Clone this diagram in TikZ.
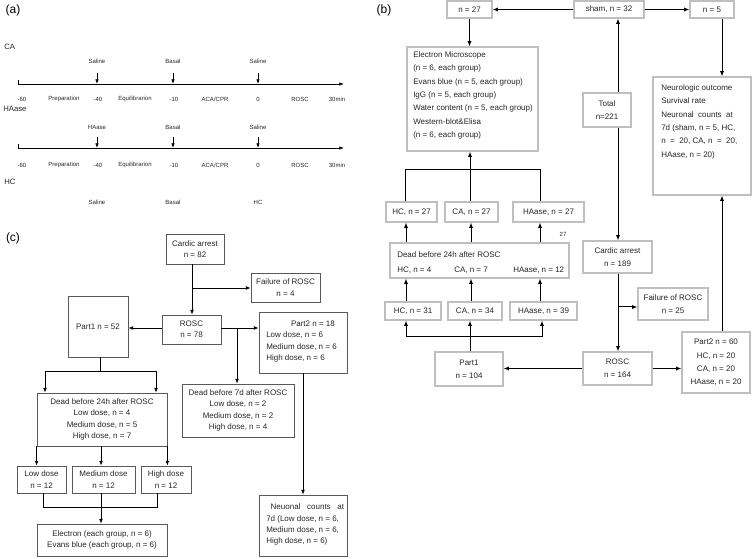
\documentclass[tikz,border=0pt]{standalone}
\usepackage{fontspec}
\setmainfont{Liberation Sans}
\usetikzlibrary{arrows.meta}
\tikzset{
  sz/.style 2 args={minimum width=#1*0.75pt,minimum height=#2*0.75pt},
  bb/.style={draw=black!25,line width=0.9pt,inner sep=0pt,font=\fontsize{6}{10}\selectfont,text=black!85},
  cb/.style={draw=black!65,line width=0.6pt,inner sep=0pt,font=\fontsize{6}{8.6}\selectfont,text=black!85},
  btxt/.style={inner sep=0pt,font=\fontsize{6}{10}\selectfont,text=black!85},
  ctxt/.style={inner sep=0pt,font=\fontsize{6}{8.6}\selectfont,text=black!85},
  bl/.style={line width=0.75pt},
  ba/.style={line width=0.75pt,-{Latex[length=4pt,width=3.2pt]}},
  cl/.style={line width=0.6pt},
  ca/.style={line width=0.6pt,-{Latex[length=3.5pt,width=2.8pt]}},
  al/.style={line width=0.5pt},
  aa/.style={line width=0.5pt,-{Latex[length=3.5pt,width=2.6pt]}},
  small/.style={inner sep=0pt,font=\fontsize{4.5}{5}\selectfont,text=black!85},
  grp/.style={inner sep=0pt,font=\fontsize{5.8}{6}\selectfont,text=black!85},
  panel/.style={inner sep=0pt,font=\fontsize{9}{10}\selectfont},
}
\begin{document}
\begin{tikzpicture}[x=0.75pt,y=-0.75pt]
\useasboundingbox (0,0) rectangle (754,559);
% ---------------- panel labels
\node[panel] (la) at (13,10) {(a)};
\node[panel] (lb) at (384,10) {(b)};
\node[panel] (lc) at (13,238) {(c)};
% ---------------- panel (a)
\node[grp,anchor=west] (gCA) at (4,47) {CA};
\node[grp,anchor=west] (gHA) at (3,109) {HAase};
\node[grp,anchor=west] (gHC) at (4,182) {HC};
% timeline 1
\coordinate (t1s) at (18,84); \coordinate (t1e) at (344,84);
\coordinate (t1k) at (18,80.5);
\draw[aa] (t1s) -- (t1e);
\draw[al] (t1k) -- (t1s);
\foreach \i/\x/\t in {1/97/Saline,2/173/Basal,3/258/Saline}{
  \node[small] (u1\i) at (\x,61) {\t};
  \coordinate (p1\i) at (\x,73); \coordinate (q1\i) at (\x,84);
  \draw[aa] (p1\i) -- (q1\i);
}
\foreach \i/\x/\t in {1/22/-60,2/64/Preparation,3/98/-40,4/135/Equilibrarion,5/174/-10,6/215/{ACA/CPR},7/258/0,8/300/ROSC,9/337/30min}{
  \node[small] (d1\i) at (\x,99) {\t};
}
% timeline 2
\coordinate (t2s) at (18,148); \coordinate (t2e) at (344,148);
\coordinate (t2k) at (18,144.5);
\draw[aa] (t2s) -- (t2e);
\draw[al] (t2k) -- (t2s);
\foreach \i/\x/\t in {1/97/HAase,2/173/Basal,3/258/Saline}{
  \node[small] (u2\i) at (\x,127) {\t};
  \coordinate (p2\i) at (\x,137); \coordinate (q2\i) at (\x,148);
  \draw[aa] (p2\i) -- (q2\i);
}
\foreach \i/\x/\t in {1/22/-60,2/64/Preparation,3/98/-40,4/135/Equilibrarion,5/174/-10,6/215/{ACA/CPR},7/258/0,8/300/ROSC,9/337/30min}{
  \node[small] (d2\i) at (\x,165) {\t};
}
% HC row
\node[small] (h1) at (97,202) {Saline};
\node[small] (h2) at (173,202) {Basal};
\node[small] (h3) at (258,202) {HC};
% ---------------- panel (b)
\node[bb,sz={45}{17}] (n27) at (469.5,9.5) {n = 27};
\node[bb,sz={70}{17}] (sham) at (609,9.5) {sham, n = 32};
\node[bb,sz={44}{17}] (n5) at (712,9.5) {n = 5};
\node[bb,sz={131}{104}] (elec) at (472.5,99) {};
\node[btxt,anchor=north west,align=left] (elecT) at (413,51.5) {Electron Microscope\\(n = 6, each group)\\Evans blue (n = 5, each group)\\IgG (n = 5, each group)\\Water content (n = 5, each group)\\Western-blot\&Elisa\\(n = 6, each group)};
\node[bb,sz={98}{118}] (neuro) at (702,136) {};
\node[btxt,anchor=north west,align=left] (neuroT) at (661,84.5) {Neurologic outcome\\Survival rate\\Neuronal\ \ counts\ \ at\\7d (sham, n = 5, HC,\\n\ \ =\ \ 20, CA, n\ \ =\ \ 20,\\HAase, n = 20)};
\node[bb,sz={48}{34},align=center] (total) at (607,110) {Total\\n=221};
\node[bb,sz={51}{20}] (hc27) at (411.5,212) {HC, n = 27};
\node[bb,sz={53}{20}] (ca27) at (471.5,212) {CA, n = 27};
\node[bb,sz={71}{20}] (ha27) at (548.5,212) {HAase, n = 27};
\node[inner sep=0pt,font=\fontsize{4.5}{5}\selectfont,text=black!85] (s27) at (563,234) {27};
\node[bb,sz={179}{35}] (dead) at (479.5,260.5) {};
\node[btxt,anchor=west] (deadT) at (397,255) {Dead before 24h after ROSC};
\node[btxt,anchor=west] (deadA) at (397,270) {HC, n = 4};
\node[btxt,anchor=west] (deadB) at (454,270) {CA, n = 7};
\node[btxt,anchor=west] (deadC) at (513,270) {HAase, n = 12};
\node[bb,sz={69}{32},align=center] (card) at (617.5,257) {Cardic arrest\\n = 189};
\node[bb,sz={70}{32},align=center] (fail) at (673,304) {Failure of ROSC\\n = 25};
\node[bb,sz={56}{18}] (hc31) at (413,311) {HC, n = 31};
\node[bb,sz={54}{18}] (ca34) at (475,311) {CA, n = 34};
\node[bb,sz={67}{18}] (ha39) at (543.5,311) {HAase, n = 39};
\node[bb,sz={68}{34},align=center] (part1) at (469,369) {Part1\\n = 104};
\node[bb,sz={69}{33},align=center] (rosc) at (617.5,368.5) {ROSC\\n = 164};
\node[bb,sz={68}{61},align=center] (part2) at (716,362.5) {Part2 n = 60\\HC, n = 20\\CA, n = 20\\HAase, n = 20};
% connectors (b)
\draw[ba] (sham.west) -- (n27.east);
\draw[ba] (sham.east) -- (n5.west);
\draw[ba] (n27.south) -- (n27.south |- elec.north);
\draw[ba] (n5.south -| 722,0) -- (neuro.north -| 722,0);
\draw[ba] (total.north -| 618,0) -- (sham.south -| 618,0);
\draw[ba] (total.south -| 618,0) -- (card.north -| 618,0);
\draw[ba] (card.south -| 618,0) -- (rosc.north -| 618,0);
\coordinate (fb) at (618,307);
\draw[ba] (fb) -- (fail.west |- fb);
\draw[ba] (rosc.west) -- (part1.east |- rosc.west);
\draw[ba] (rosc.east) -- (part2.west |- rosc.east);
\draw[ba] (part2.north -| 722,0) -- (neuro.south -| 722,0);
% top bracket
\coordinate (tbL) at (405,170); \coordinate (tbR) at (540,170); \coordinate (tbM) at (470,170);
\draw[bl] (hc27.north -| tbL) -- (tbL) -- (tbR) -- (ha27.north -| tbR);
\draw[bl] (ca27.north -| tbM) -- (tbM);
\draw[ba] (tbM) -- (elec.south -| tbM);
% dead -> 27 boxes
\draw[ba] (dead.north -| 406,0) -- (hc27.south -| 406,0);
\draw[ba] (dead.north -| 471,0) -- (ca27.south -| 471,0);
\draw[ba] (dead.north -| 540,0) -- (ha27.south -| 540,0);
% 31 boxes -> dead
\draw[ba] (hc31.north -| 406,0) -- (dead.south -| 406,0);
\draw[ba] (ca34.north -| 471,0) -- (dead.south -| 471,0);
\draw[ba] (ha39.north -| 540,0) -- (dead.south -| 540,0);
% bottom bracket
\coordinate (bbL) at (406,337); \coordinate (bbR) at (542,337); \coordinate (bbM) at (470,337);
\draw[bl] (part1.north -| bbM) -- (bbM);
\draw[ba] (bbM) -- (ca34.south -| bbM);
\draw[ba] (bbL) -- (hc31.south -| bbL);
\draw[ba] (bbR) -- (ha39.south -| bbR);
\draw[bl] (bbL) -- (bbR);
% ---------------- panel (c)
\node[cb,sz={58}{30},align=center] (ccard) at (195,249) {Cardic arrest\\n = 82};
\node[cb,sz={69}{29},align=center] (cfail) at (285.5,287.5) {Failure of ROSC\\n = 4};
\node[cb,sz={59}{29},align=center] (crosc) at (191.5,329.5) {ROSC\\n = 78};
\node[cb,sz={60}{61}] (cpart1) at (98,326.5) {Part1 n = 52};
\node[cb,sz={88}{61}] (cpart2) at (303,342.5) {};
\node[ctxt,anchor=north west,align=left] (cpart2T) at (266,320.5) {\makebox[70pt]{Part2 n = 18}\\Low dose, n = 6\\Medium dose, n = 6\\High dose, n = 6};
\node[cb,sz={112}{53},align=center] (cdead7) at (238,410.5) {Dead before 7d after ROSC\\Low dose, n = 2\\Medium dose, n = 2\\High dose, n = 4};
\node[cb,sz={130}{53},align=center] (cdead24) at (102,419.5) {Dead before 24h after ROSC\\Low dose, n = 4\\Medium dose, n = 5\\High dose, n = 7};
\node[cb,sz={49}{27},align=center] (clow) at (41.5,479.5) {Low dose\\n = 12};
\node[cb,sz={63}{27},align=center] (cmed) at (103.5,479.5) {Medium dose\\n = 12};
\node[cb,sz={50}{27},align=center] (chigh) at (166,479.5) {High dose\\n = 12};
\node[cb,sz={130}{32},align=center] (celec) at (102,540) {Electron (each group, n = 6)\\Evans blue (each group, n = 6)};
\node[cb,sz={88}{61}] (cneur) at (303,525.5) {};
\node[ctxt,anchor=north west,align=left] (cneurT) at (266,503.5) {\ \ Neuonal\ \ \ counts\ \ \ at\\7d (Low dose, n = 6,\\Medium dose, n = 6,\\High dose, n = 6)};
% connectors (c)
\draw[ca] (ccard.south -| 192,0) -- (crosc.north -| 192,0);
\coordinate (cfb) at (192,288);
\draw[ca] (cfb) -- (cfail.west |- cfb);
\draw[ca] (crosc.west |- 0,328) -- (cpart1.east |- 0,328);
\draw[ca] (crosc.east |- 0,328) -- (cpart2.west |- 0,328);
\coordinate (cdb) at (237,328);
\draw[ca] (cdb) -- (cdead7.north -| cdb);
\draw[ca] (cpart2.south -| 303,0) -- (cneur.north -| 303,0);
\coordinate (p1b) at (100,371); \coordinate (p1L) at (45,371); \coordinate (p1R) at (156,371);
\draw[cl] (cpart1.south -| p1b) -- (p1b);
\draw[cl] (p1L) -- (p1R);
\draw[ca] (p1L) -- (cdead24.north -| p1L);
\draw[ca] (p1R) -- (cdead24.north -| p1R);
\draw[ca] (cdead24.south west) -- (clow.north -| cdead24.south west);
\draw[ca] (cdead24.south -| 101,0) -- (cmed.north -| 101,0);
\draw[ca] (cdead24.south east) -- (chigh.north -| cdead24.south east);
\coordinate (dbL) at (43,507); \coordinate (dbR) at (157,507); \coordinate (dbM) at (101,507);
\draw[cl] (clow.south -| dbL) -- (dbL) -- (dbR) -- (chigh.south -| dbR);
\draw[ca] (cmed.south -| dbM) -- (celec.north -| dbM);
\end{tikzpicture}
\end{document}
